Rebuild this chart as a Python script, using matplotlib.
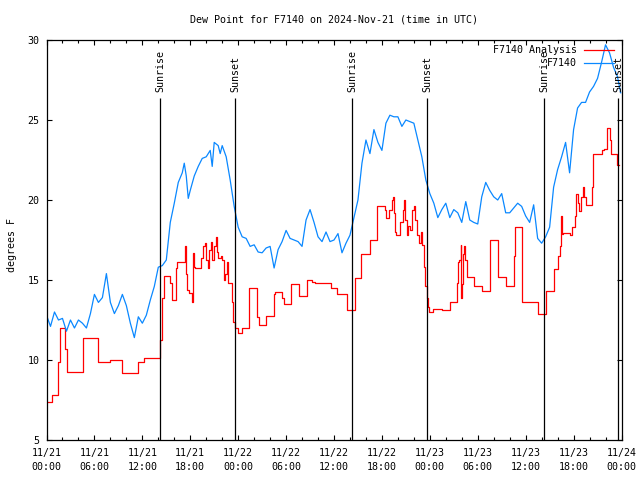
import matplotlib
matplotlib.use("Agg")
import matplotlib.pyplot as plt
import numpy as np

# ---------------- data ----------------
title = "Dew Point for F7140 on 2024-Nov-21 (time in UTC)"
ylabel = "degrees F"

# hours since 2024-11-21 00:00 UTC
obs_hours = [
    0, 0.5, 1, 1.5, 2, 2.5, 3, 3.5, 4, 4.5, 5, 5.5, 6, 6.5, 7, 7.5, 8, 8.5, 9, 9.5,
    10, 10.5, 11, 11.5, 12, 12.5, 13, 13.5, 14, 14.5, 15, 15.5, 16, 16.5, 17, 17.25, 17.5,
    17.75, 18, 18.5, 19, 19.5, 20, 20.5, 20.75, 21, 21.5, 21.75, 22, 22.5, 23, 23.5, 24, 24.5, 25, 25.5,
    26, 26.5, 27, 27.5, 28, 28.5, 29, 29.5, 30, 30.5, 31, 31.5, 32, 32.5, 33, 33.5,
    34, 34.5, 35, 35.5, 36, 36.5, 37, 37.5, 38, 38.5, 39, 39.5, 40, 40.5, 41, 41.5,
    42, 42.5, 43, 43.5, 44, 44.5, 45, 45.5, 46, 46.5, 47, 47.5, 48, 48.5, 49, 49.5,
    50, 50.5, 51, 51.5, 52, 52.5, 53, 53.5, 54, 54.5, 55, 55.5, 56, 56.5, 57, 57.5,
    58, 58.5, 59, 59.5, 60, 60.5, 61, 61.5, 62, 62.5, 63, 63.5, 64, 64.5, 65, 65.5,
    66, 66.5, 67, 67.5, 68, 68.5, 69, 69.5, 70, 70.5, 71, 71.5, 71.9,
]
obs_values = [
    12.8, 12.1, 13.0, 12.5, 12.6, 11.8, 12.5, 12.0, 12.5, 12.3, 12.0, 12.9, 14.1, 13.6, 13.9, 15.4, 13.6, 12.9, 13.4, 14.1,
    13.4, 12.3, 11.4, 12.7, 12.3, 12.8, 13.75, 14.6, 15.8, 15.9, 16.25, 18.6, 19.8, 21.1, 21.7, 22.3, 21.5,
    20.1, 20.6, 21.5, 22.1, 22.6, 22.7, 23.1, 22.1, 23.6, 23.4, 22.9, 23.4, 22.7, 21.25, 19.6, 18.3, 17.7, 17.6, 17.1,
    17.2, 16.75, 16.7, 17.0, 17.1, 15.75, 16.9, 17.4, 18.1, 17.6, 17.5, 17.4, 17.1, 18.75, 19.4, 18.6,
    17.7, 17.4, 18.0, 17.4, 17.5, 17.9, 16.7, 17.3, 17.8, 18.9, 20.0, 22.3, 23.75, 22.9, 24.4, 23.6,
    23.1, 24.8, 25.3, 25.2, 25.2, 24.6, 25.0, 24.9, 24.8, 23.75, 22.7, 21.25, 20.4, 19.8, 18.9, 19.4,
    19.8, 18.9, 19.4, 19.2, 18.6, 19.9, 18.75, 18.6, 18.5, 20.2, 21.1, 20.6, 20.2, 20.0, 20.4, 19.2,
    19.2, 19.5, 19.8, 19.6, 19.0, 18.6, 19.7, 17.6, 17.3, 17.7, 18.3, 20.8, 21.9, 22.7, 23.6, 21.7,
    24.4, 25.75, 26.1, 26.1, 26.75, 27.1, 27.6, 28.6, 29.7, 29.2, 28.3, 27.7, 26.7,
]

ana_hours = [
    0, 0.75, 1.5, 1.7, 2.3, 2.6, 4.6, 6.5, 7.9, 9.5, 11.5, 12.2,
    14.25, 14.4, 14.75, 15.5, 15.67, 16.25, 16.4, 17.33, 17.45, 17.6, 17.9, 18.25, 18.35,
    18.5, 18.65, 19.4, 19.65, 19.85, 19.95, 20.17, 20.35, 20.58, 20.75, 20.95, 21.17,
    21.3, 21.5, 21.85, 22.0, 22.25, 22.4, 22.55, 22.75, 23.25, 23.35, 23.55, 23.92,
    24.5, 25.375, 26.4, 26.6, 27.5, 28.5, 28.65, 29.5, 29.7, 30.6, 31.6, 32.6, 33.3,
    33.6, 35.6, 36.4, 37.6, 38.6, 39.4, 40.5, 41.4, 42.4, 42.5, 42.9, 43.2, 43.45,
    43.55, 43.65, 43.8, 44.3, 44.65, 44.8, 44.95, 45.1, 45.25, 45.5, 45.8, 46.0, 46.2,
    46.4, 46.6, 46.9, 47.0, 47.25, 47.45, 47.65, 47.75, 47.9, 48.4, 49.5, 50.5, 51.4,
    51.55, 51.7, 51.85, 51.95, 52.05, 52.15, 52.3, 52.45, 52.6, 53.5, 54.5, 55.5, 56.5,
    57.5, 58.5, 58.65, 59.5, 61.5, 62.5, 63.5, 63.6, 64.05, 64.25, 64.4, 64.55, 64.65,
    65.6, 65.8, 66.2, 66.3, 66.5, 66.7, 66.9, 67.15, 67.35, 67.5, 68.3, 68.4, 69.55,
    69.75, 70.2, 70.55, 70.7, 71.4, 71.65,
]
ana_values = [
    7.4, 7.8, 9.9, 12.0, 10.7, 9.25, 11.4, 9.9, 10.0, 9.2, 9.9, 10.1,
    11.25, 13.9, 15.25, 14.8, 13.75, 15.75, 16.1, 17.1, 15.4, 14.4, 14.2, 13.6, 16.7,
    15.8, 15.75, 16.4, 17.1, 17.3, 16.25, 15.75, 16.9, 17.4, 16.25, 17.1, 17.7,
    16.75, 16.4, 16.5, 16.25, 15.0, 15.4, 16.1, 14.8, 13.6, 12.4, 12.0, 11.7,
    12.0, 14.5, 12.7, 12.2, 12.75, 14.1, 14.25, 13.9, 13.5, 14.75, 14.0, 15.0, 14.9,
    14.8, 14.5, 14.1, 13.1, 15.1, 16.6, 17.5, 19.6, 19.4, 18.9, 19.4, 20.0, 20.2,
    19.2, 18.0, 17.8, 18.6, 19.4, 20.0, 18.75, 17.8, 18.4, 18.1, 19.4, 19.6, 18.75,
    17.8, 17.3, 18.0, 17.2, 15.8, 14.6, 13.9, 13.3, 13.0, 13.2, 13.1, 13.6, 14.8,
    16.1, 16.25, 17.2, 13.9, 14.75, 16.6, 17.1, 16.25, 15.2, 14.6, 14.3, 17.5, 15.2,
    14.6, 16.5, 18.3, 13.6, 12.85, 14.3, 15.0, 15.7, 16.5, 17.1, 19.0, 17.9, 17.96,
    17.8, 18.3, 19.0, 20.4, 19.8, 19.3, 20.2, 20.8, 20.2, 19.7, 20.8, 22.85, 23.1,
    23.2, 24.5, 23.75, 22.85, 22.2, 22.2,
]

sun_hours = [14.27, 23.63, 38.27, 47.63, 62.28, 71.62]
sun_labels = ["Sunrise", "Sunset", "Sunrise", "Sunset", "Sunrise", "Sunset"]

xtick_hours = [0, 6, 12, 18, 24, 30, 36, 42, 48, 54, 60, 66, 72]
xtick_labels = [
    "11/21\n00:00", "11/21\n06:00", "11/21\n12:00", "11/21\n18:00",
    "11/22\n00:00", "11/22\n06:00", "11/22\n12:00", "11/22\n18:00",
    "11/23\n00:00", "11/23\n06:00", "11/23\n12:00", "11/23\n18:00",
    "11/24\n00:00",
]
yticks = [5, 10, 15, 20, 25, 30]

# ---------------- plot ----------------
FONT = "DejaVu Sans Mono"
FS = 7.2
plt.rcParams["font.family"] = FONT
plt.rcParams["font.size"] = FS

fig = plt.figure(figsize=(6.4, 4.8), dpi=100)
W, H = 640, 480
L, R, T, B = 46.5, 621.5, 40, 440
ax = fig.add_axes([L / W, 1 - B / H, (R - L) / W, (B - T) / H])

red = "#ff0000"
blue = "#0a88ff"

ax.plot(ana_hours, ana_values, drawstyle="steps-post", color=red, lw=0.9,
        label="F7140 Analysis")
ax.plot(obs_hours, obs_values, color=blue, lw=0.9, label="F7140")

ax.set_xlim(0, 72)
ax.set_ylim(5, 30)

ax.vlines(sun_hours, 5, 26.4, color="black", lw=0.9)
for h, lab in zip(sun_hours, sun_labels):
    ax.text(h, 26.75, lab, rotation=90, ha="center", va="bottom",
            fontsize=FS, family=FONT)

ax.set_xticks(xtick_hours)
ax.set_xticklabels(xtick_labels, linespacing=1.5)
ax.set_xticks(np.arange(0, 73, 2), minor=True)
ax.set_yticks(yticks)
ax.set_yticklabels([str(v) for v in yticks])

ax.tick_params(axis="both", which="major", direction="in", length=3.6,
               width=0.8, top=True, right=True, labelsize=FS)
ax.tick_params(axis="both", which="minor", direction="in", length=2.2,
               width=0.8, top=True, right=True)
ax.tick_params(axis="x", which="major", pad=6)
ax.tick_params(axis="y", which="major", pad=5)

for s in ax.spines.values():
    s.set_linewidth(0.9)

fig.text((L + R) / 2 / W, 1 - 20 / H, title, ha="center", va="center",
         fontsize=FS)
fig.text(12 / W, 1 - 245 / H, ylabel, rotation=90, ha="center", va="center",
         fontsize=FS)

leg = ax.legend(loc="upper right", bbox_to_anchor=(614 / W, 1 - 45 / H),
                bbox_transform=fig.transFigure, frameon=False,
                markerfirst=False, handlelength=3.0, handletextpad=0.7,
                labelspacing=0.3, borderpad=0, borderaxespad=0,
                fontsize=FS)
for t in leg.get_texts():
    t.set_ha("right")

fig.savefig("out.png", dpi=100)
